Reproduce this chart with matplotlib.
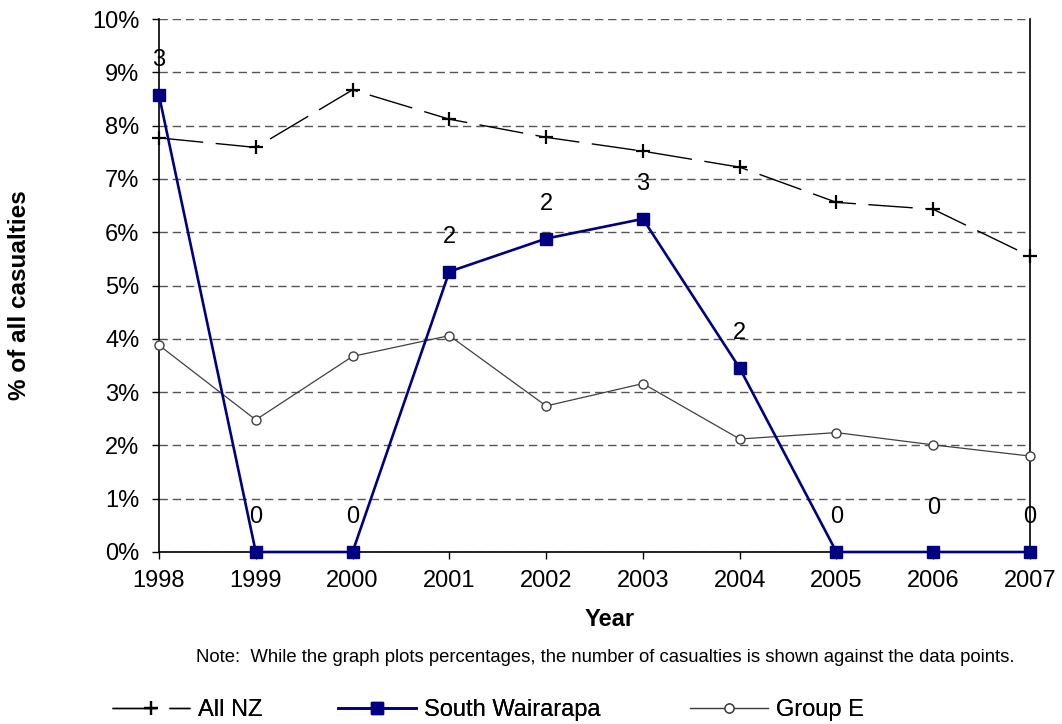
import matplotlib
matplotlib.use("Agg")
import matplotlib.pyplot as plt
from matplotlib.ticker import FuncFormatter

plt.rcParams['font.family'] = ['Liberation Sans', 'DejaVu Sans']

years = [1998, 1999, 2000, 2001, 2002, 2003, 2004, 2005, 2006, 2007]
all_nz = [7.77, 7.59, 8.67, 8.12, 7.78, 7.52, 7.22, 6.56, 6.43, 5.55]
south_wairarapa = [8.57, 0, 0, 5.26, 5.88, 6.25, 3.45, 0, 0, 0]
group_e = [3.88, 2.48, 3.67, 4.06, 2.74, 3.16, 2.12, 2.24, 2.01, 1.80]
sw_counts = [3, 0, 0, 2, 2, 3, 2, 0, 0, 0]
# vertical offset of count labels, points
label_dy = [25, 25, 25, 25, 25, 25, 25, 25, 32, 25]

fig = plt.figure(figsize=(10.62, 7.24), dpi=100)
ax = fig.add_axes([159/1062, 1 - 552/724, (1030-159)/1062, (552-19)/724])

l1, = ax.plot(years, all_nz, color='black', lw=1.0, dashes=(32, 9),
              marker='+', ms=10, mew=1.6, label='All NZ', clip_on=False, zorder=3)
l2, = ax.plot(years, south_wairarapa, color='#000080', lw=1.9,
              marker='s', ms=8, label='South Wairarapa', clip_on=False, zorder=4)
l3, = ax.plot(years, group_e, color='#404040', lw=0.9,
              marker='o', ms=6.5, mfc='white', mew=1.0, label='Group E',
              clip_on=False, zorder=3)

for x, y, n, dy in zip(years, south_wairarapa, sw_counts, label_dy):
    ax.annotate(str(n), (x, y), xytext=(0, dy), textcoords='offset points',
                ha='center', va='center', fontsize=17, zorder=5)

ax.set_xlim(1998, 2007)
ax.set_ylim(0, 10)
ax.set_xticks(years)
ax.set_yticks(range(0, 11))
ax.yaxis.set_major_formatter(FuncFormatter(lambda v, p: '%d%%' % v))
ax.tick_params(axis='both', direction='out', length=5, labelsize=17, width=1)
ax.tick_params(axis='x', pad=8)
ax.tick_params(axis='y', pad=9)

ax.grid(axis='y', color='#555555', lw=1.0, dashes=(6, 3.5))
ax.set_axisbelow(True)
ax.spines['top'].set_visible(False)
for s in ['left', 'bottom', 'right']:
    ax.spines[s].set_color('black')
    ax.spines[s].set_linewidth(1.2)

fig.text(20/1062, 1 - 295/724, '% of all casualties', rotation=90,
         ha='center', va='center', fontsize=17.5, fontweight='bold')
fig.text(610/1062, 1 - 620/724, 'Year', ha='center', va='center',
         fontsize=17, fontweight='bold')
fig.text(605/1062, 1 - 657/724,
         'Note:  While the graph plots percentages, the number of casualties is shown against the data points.',
         ha='center', va='center', fontsize=13.3)

# one legend per entry so each sits where the original has it
for h, x0 in [(l1, 112), (l2, 338), (l3, 690)]:
    leg = fig.legend(handles=[h], loc='center left',
                     bbox_to_anchor=(x0/1062, 1 - 710/724), frameon=False,
                     fontsize=17, handlelength=3.3, handletextpad=0.35,
                     borderpad=0, borderaxespad=0)
    fig.add_artist(leg)

fig.savefig('out.png', dpi=100)
